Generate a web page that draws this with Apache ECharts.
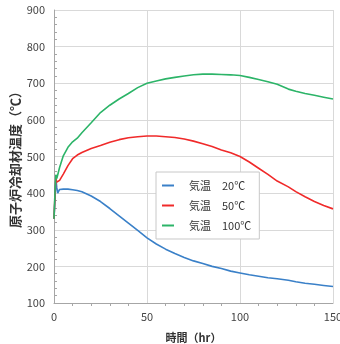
<!DOCTYPE html>
<html>
<head>
<meta charset="utf-8">
<script src="https://cdn.jsdelivr.net/npm/echarts@6/dist/echarts.min.js"></script>
<style>
  html, body { margin: 0; padding: 0; background: #fff; }
  #chart { width: 340px; height: 344px; }
</style>
</head>
<body>
<div id="chart"></div>
<script>
// 時間 (hr)
var timeHr = [0, 0.5, 1, 1.5, 2, 3, 5, 7.5, 10, 12.5, 15, 20, 25, 30, 35, 40, 45, 50, 55, 60, 65, 70, 75, 80, 85, 90, 95, 100, 105, 110, 115, 120, 126, 130, 135, 140, 145, 150];
// 気温 20℃
var temp20 = [330, 380, 440, 415, 400, 410, 411, 411, 409, 407, 404, 392, 377, 358, 338, 318, 298, 278, 261, 247, 235, 224, 215, 208, 200, 194, 187, 182, 177, 173, 169, 166, 162, 158, 154, 151, 148, 145];
// 気温 50℃
var temp50 = [330, 390, 440, 430, 425, 435, 452, 475, 494, 504, 511, 522, 530, 539, 546, 551, 554, 556, 556, 554, 552, 548, 542, 535, 527, 518, 510, 500, 485, 468, 451, 433, 417, 404, 390, 377, 366, 357];
// 気温 100℃
var temp100 = [330, 400, 450, 440, 445, 470, 502, 525, 540, 550, 565, 592, 620, 640, 657, 672, 688, 700, 706, 712, 716, 720, 723, 725, 725, 724, 723, 721, 716, 710, 704, 697, 684, 678, 672, 667, 662, 657];

var seriesNames = ['気温　20℃', '気温　50℃', '気温　100℃'];
var seriesColors = ['#3a80c8', '#f02a2a', '#2cb468'];
var xTicks = [0, 50, 100, 150];
var yTicks = [100, 200, 300, 400, 500, 600, 700, 800, 900];

var toPairs = function (vals) {
    var out = [];
    for (var i = 0; i < timeHr.length; i++)
        out.push([timeHr[i], vals[i]]);
    return out;
};

var allVals = [temp20, temp50, temp100];
var series = [];
for (var s = 0; s < allVals.length; s++) {
    series.push({
        name: seriesNames[s],
        type: 'line',
        data: toPairs(allVals[s]),
        showSymbol: false,
        smooth: false,
        lineStyle: { width: 1.6, color: seriesColors[s] },
        itemStyle: { color: seriesColors[s] }
    });
}

var font = "'Noto Sans CJK JP', 'Noto Sans', sans-serif";
var chart = echarts.init(document.getElementById('chart'));
chart.setOption({
    animation: false,
    textStyle: { fontFamily: font },
    grid: { left: 54, right: 7, top: 10, bottom: 41, outerBoundsMode: 'none', containLabel: false },
    legend: {
        orient: 'vertical',
        left: 156,
        top: 172,
        padding: [8, 8, 8, 6],
        itemGap: 9,
        itemWidth: 12,
        itemHeight: 2,
        icon: 'rect',
        backgroundColor: '#fff',
        borderColor: '#c8c8c8',
        borderWidth: 1,
        textStyle: { fontSize: 11, color: '#333', fontFamily: font, padding: [0, 0, 0, 10] },
        data: seriesNames
    },
    xAxis: {
        type: 'value',
        min: xTicks[0],
        max: xTicks[xTicks.length - 1],
        interval: 50,
        name: '時間（hr）',
        nameLocation: 'middle',
        nameGap: 29,
        nameMoveOverlap: false,
        nameTextStyle: { fontSize: 11, fontWeight: 'bold', color: '#333' },
        axisLine: { show: true, lineStyle: { color: '#a6a6a6' } },
        axisTick: { show: false },
        minorTick: { show: true, splitNumber: 5, length: 3, lineStyle: { color: '#a6a6a6' } },
        axisLabel: { fontSize: 11, color: '#444', margin: 8 },
        splitLine: { show: true, lineStyle: { color: '#d9d9d9' } }
    },
    yAxis: {
        type: 'value',
        min: yTicks[0],
        max: yTicks[yTicks.length - 1],
        interval: 100,
        name: '原子炉冷却材温度（℃）',
        nameLocation: 'middle',
        nameGap: 32,
        nameMoveOverlap: false,
        nameTextStyle: { fontSize: 13, fontWeight: 'bold', color: '#333' },
        axisLine: { show: true, lineStyle: { color: '#a6a6a6' } },
        axisTick: { show: false, inside: true },
        minorTick: { show: true, splitNumber: 5, length: 3, lineStyle: { color: '#a6a6a6' } },
        axisLabel: { fontSize: 11, color: '#444', margin: 9 },
        splitLine: { show: true, lineStyle: { color: '#d9d9d9' } }
    },
    series: series
});
</script>
</body>
</html>
